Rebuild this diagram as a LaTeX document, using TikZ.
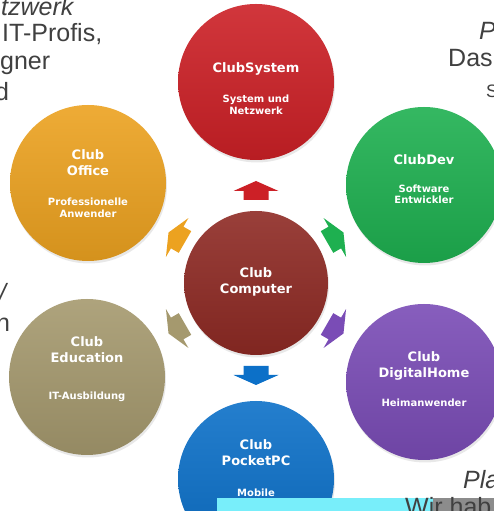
\documentclass[tikz,border=0pt]{standalone}
\usepackage{fontspec}
\setmainfont{Liberation Sans}
\newfontfamily\lblfont{DejaVu Sans}
\usetikzlibrary{shadows}
\definecolor{cSys}{RGB}{204,32,38}
\definecolor{cDev}{RGB}{30,176,80}
\definecolor{cOff}{RGB}{236,162,32}
\definecolor{cCom}{RGB}{142,42,36}
\definecolor{cEdu}{RGB}{165,153,110}
\definecolor{cDig}{RGB}{122,76,182}
\definecolor{cPoc}{RGB}{12,112,200}
\definecolor{pagetext}{RGB}{64,64,64}
\definecolor{stripcyan}{RGB}{120,238,250}
\definecolor{stripgray}{RGB}{140,140,140}
\tikzset{
  club/.style={circle, minimum size=156pt, inner sep=0pt, draw=none,
    top color=#1!90!white, middle color=#1, bottom color=#1!90!black,
    drop shadow={opacity=0.18, shadow xshift=1pt, shadow yshift=-2.5pt}},
  ttl/.style={text=white, font=\lblfont\bfseries\fontsize{13}{16}\selectfont, inner sep=0pt, align=center},
  sub/.style={text=white, font=\lblfont\bfseries\fontsize{10}{12}\selectfont, inner sep=0pt, align=center},
  pg/.style={text=pagetext, font=\fontsize{25}{30}\selectfont, inner sep=0pt, anchor=base west},
  pgit/.style={pg, font=\fontsize{25}{30}\selectfont\itshape},
  blockarrow/.pic={\path[pic actions] (-9,-12.5) -- (0,-12.5) -- (0,-22.5) -- (10,0) -- (0,22.5) -- (0,12.5) -- (-9,12.5) -- cycle;}
}
\begin{document}
\begin{tikzpicture}[x=1pt, y=1pt]
\useasboundingbox (0,0) rectangle (494,511);
\fill[white] (0,0) rectangle (494,511);
\clip (0,0) rectangle (494,511);

% page text fragments
\node[pgit] (t1) at (1,495) {tzwerk};
\node[pg] (t2) at (2,469) {IT-Profis,};
\node[pg] (t3) at (0,441) {gner};
\node[pg] (t4) at (-5,410) {d};
\node[pgit] (t5) at (479,471) {P};
\node[pg] (t6) at (448,444) {Das};
\node[pg, font=\fontsize{18}{20}\selectfont] (t7) at (486,413) {S};
\node[pgit] (t8) at (-1,209) {/};
\node[pg] (t9) at (-4,179) {n};
\node[pgit] (t10) at (463,23) {Pla};

% circles
\node[club=cSys] (sys) at (256,429) {};
\node[club=cDev] (dev) at (424,326) {};
\node[club=cOff] (off) at (88,328) {};
\node[club=cEdu] (edu) at (87,134) {};
\node[club=cDig] (dig) at (424,129) {};
\node[club=cPoc] (poc) at (256,32) {};
\node[club=cCom, minimum size=144pt] (com) at (256,228) {};

% arrows
\pic[rotate=90,  fill=cSys] (aSys) at ([shift={(90:92)}]com.center) {blockarrow};
\pic[rotate=30,  fill=cDev] (aDev) at ([shift={(30:91)}]com.center) {blockarrow};
\pic[rotate=150, fill=cOff] (aOff) at ([shift={(150:91)}]com.center) {blockarrow};
\pic[rotate=210, fill=cEdu] (aEdu) at ([shift={(210:91)}]com.center) {blockarrow};
\pic[rotate=330, fill=cDig] (aDig) at ([shift={(330:91)}]com.center) {blockarrow};
\pic[rotate=270, fill=cPoc] (aPoc) at ([shift={(270:92)}]com.center) {blockarrow};

% circle texts
\node[ttl] (sysA) at ([yshift=13]sys.center) {ClubSystem};
\node[sub] (sysB) at ([yshift=-23]sys.center) {System und\\Netzwerk};
\node[ttl] (devA) at ([yshift=25]dev.center) {ClubDev};
\node[sub] (devB) at ([yshift=-9.5]dev.center) {Software\\[-1pt]Entwickler};
\node[ttl] (offA) at ([yshift=20]off.center) {Club\\Office};
\node[sub] (offB) at ([yshift=-24.5]off.center) {Professionelle\\Anwender};
\node[ttl] (comA) at ([yshift=1]com.center) {Club\\Computer};
\node[ttl] (eduA) at ([yshift=27]edu.center) {Club\\Education};
\node[sub] (eduB) at ([yshift=-20]edu.center) {IT-Ausbildung};
\node[ttl] (digA) at ([yshift=16.5]dig.center) {Club\\DigitalHome};
\node[sub] (digB) at ([yshift=-21]dig.center) {Heimanwender};
\node[ttl] (pocA) at ([yshift=26]poc.center) {Club\\PocketPC};
\node[sub] (pocB) at ([yshift=-14]poc.center) {Mobile};

% bottom strip
\fill[stripcyan] (217,0) rectangle (433,13);
\fill[stripgray] (433,0) rectangle (494,13);
\node[pg] (t11) at (405,-5) {Wir hab};
\end{tikzpicture}
\end{document}
